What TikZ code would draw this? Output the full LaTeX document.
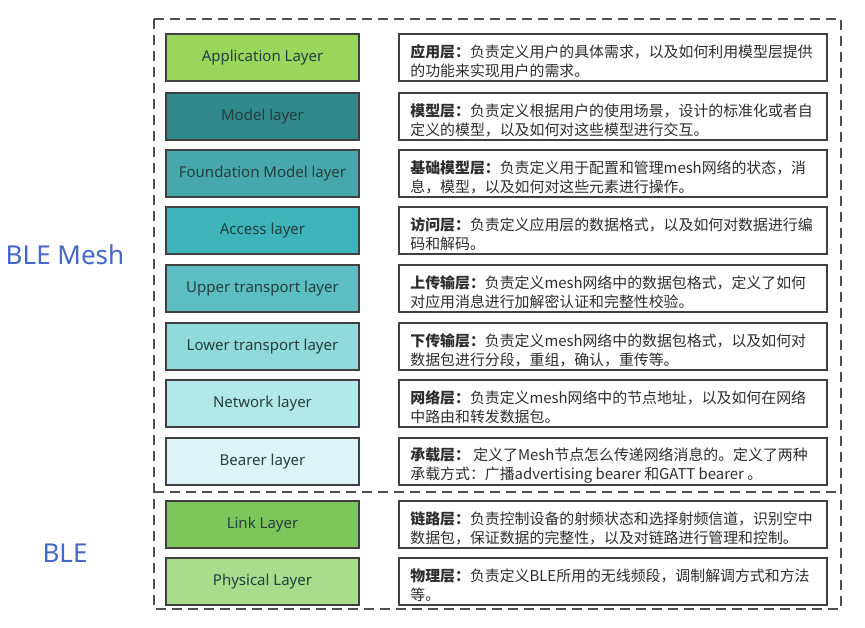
\documentclass[tikz,border=0pt]{standalone}
\usepackage{fontspec}
\setmainfont{Noto Sans CJK SC}
\newfontfamily\lat{Noto Sans}
\definecolor{cApp}{HTML}{9BD65C}
\definecolor{cModel}{HTML}{31898B}
\definecolor{cFound}{HTML}{47A8AC}
\definecolor{cAccess}{HTML}{3DB4B9}
\definecolor{cUpper}{HTML}{5CBEC1}
\definecolor{cLower}{HTML}{90DADC}
\definecolor{cNet}{HTML}{B3E8EA}
\definecolor{cBearer}{HTML}{DCF4F5}
\definecolor{cLink}{HTML}{7CC65B}
\definecolor{cPhys}{HTML}{A9DD8D}
\definecolor{bord}{HTML}{404040}
\definecolor{ltxt}{HTML}{253E3E}
\definecolor{rtxt}{HTML}{2E2E2E}
\definecolor{dashc}{HTML}{505050}
\definecolor{blueLbl}{HTML}{4468C8}
\tikzset{
  layerbox/.style={draw=bord, line width=1.6pt, minimum width=193pt, minimum height=47pt,
    inner sep=0pt, text=ltxt, font=\lat\fontsize{15}{17}\selectfont},
  descbox/.style={draw=bord, line width=1.6pt, minimum width=428pt, minimum height=47pt, inner sep=0pt},
  desctext/.style={anchor=west, align=left, inner sep=0pt, text=rtxt,
    font=\fontsize{14.9}{19}\selectfont},
  group/.style={draw=dashc, line width=1.8pt, dash pattern=on 10pt off 6pt},
  side/.style={text=blueLbl, font=\lat\fontsize{26}{30}\selectfont}
}
\begin{document}
\begin{tikzpicture}[x=1pt,y=-1pt]
\useasboundingbox (0,0) rectangle (865,627);
\fill[white] (0,0) rectangle (865,627);
% groups
\draw[group] (154,19) rectangle (841,609);
\coordinate (divL) at (154,492);
\coordinate (divR) at (841,492);
\draw[group, line width=2.4pt] (divL) -- (divR);
% side labels
\node[side] (mesh) at (65,255) {BLE Mesh};
\node[side] (ble) at (65,553) {BLE};
% left layer boxes
\node[layerbox, fill=cApp] (L1) at (262.5,57.5) {Application Layer};
\node[layerbox, fill=cModel] (L2) at (262.5,116.5) {Model layer};
\node[layerbox, fill=cFound] (L3) at (262.5,173.5) {Foundation Model layer};
\node[layerbox, fill=cAccess] (L4) at (262.5,230.5) {Access layer};
\node[layerbox, fill=cUpper] (L5) at (262.5,288.5) {Upper transport layer};
\node[layerbox, fill=cLower] (L6) at (262.5,346.5) {Lower transport layer};
\node[layerbox, fill=cNet] (L7) at (262.5,403.5) {Network layer};
\node[layerbox, fill=cBearer] (L8) at (262.5,461.5) {Bearer layer};
\node[layerbox, fill=cLink] (L9) at (262.5,524.5) {Link Layer};
\node[layerbox, fill=cPhys] (L10) at (262.5,581.5) {Physical Layer};
% right description boxes
\node[descbox] (D1) at (613,57.5) {};
\node[descbox] (D2) at (613,116.5) {};
\node[descbox] (D3) at (613,173.5) {};
\node[descbox] (D4) at (613,230.5) {};
\node[descbox] (D5) at (613,288.5) {};
\node[descbox] (D6) at (613,346.5) {};
\node[descbox] (D7) at (613,403.5) {};
\node[descbox] (D8) at (613,461.5) {};
\node[descbox] (D9) at (613,524.5) {};
\node[descbox] (D10) at (613,581.5) {};
\tikzset{tpos/.style={xshift=12pt, yshift=-3.5pt}}
\node[desctext] (T1) at ([tpos]D1.west) {{\bfseries 应用层：}负责定义用户的具体需求，以及如何利用模型层提供\\的功能来实现用户的需求。};
\node[desctext] (T2) at ([tpos]D2.west) {{\bfseries 模型层：}负责定义根据用户的使用场景，设计的标准化或者自\\定义的模型，以及如何对这些模型进行交互。};
\node[desctext] (T3) at ([tpos]D3.west) {{\bfseries 基础模型层：}负责定义用于配置和管理mesh网络的状态，消\\息，模型，以及如何对这些元素进行操作。};
\node[desctext] (T4) at ([tpos]D4.west) {{\bfseries 访问层：}负责定义应用层的数据格式，以及如何对数据进行编\\码和解码。};
\node[desctext] (T5) at ([tpos]D5.west) {{\bfseries 上传输层：}负责定义mesh网络中的数据包格式，定义了如何\\对应用消息进行加解密认证和完整性校验。};
\node[desctext] (T6) at ([tpos]D6.west) {{\bfseries 下传输层：}负责定义mesh网络中的数据包格式，以及如何对\\数据包进行分段，重组，确认，重传等。};
\node[desctext] (T7) at ([tpos]D7.west) {{\bfseries 网络层：}负责定义mesh网络中的节点地址，以及如何在网络\\中路由和转发数据包。};
\node[desctext] (T8) at ([tpos]D8.west) {{\bfseries 承载层：} 定义了Mesh节点怎么传递网络消息的。定义了两种\\承载方式：广播advertising bearer 和GATT bearer 。};
\node[desctext] (T9) at ([tpos]D9.west) {{\bfseries 链路层：}负责控制设备的射频状态和选择射频信道，识别空中\\数据包，保证数据的完整性，以及对链路进行管理和控制。};
\node[desctext] (T10) at ([tpos]D10.west) {{\bfseries 物理层：}负责定义BLE所用的无线频段，调制解调方式和方法\\等。};
\end{tikzpicture}
\end{document}
